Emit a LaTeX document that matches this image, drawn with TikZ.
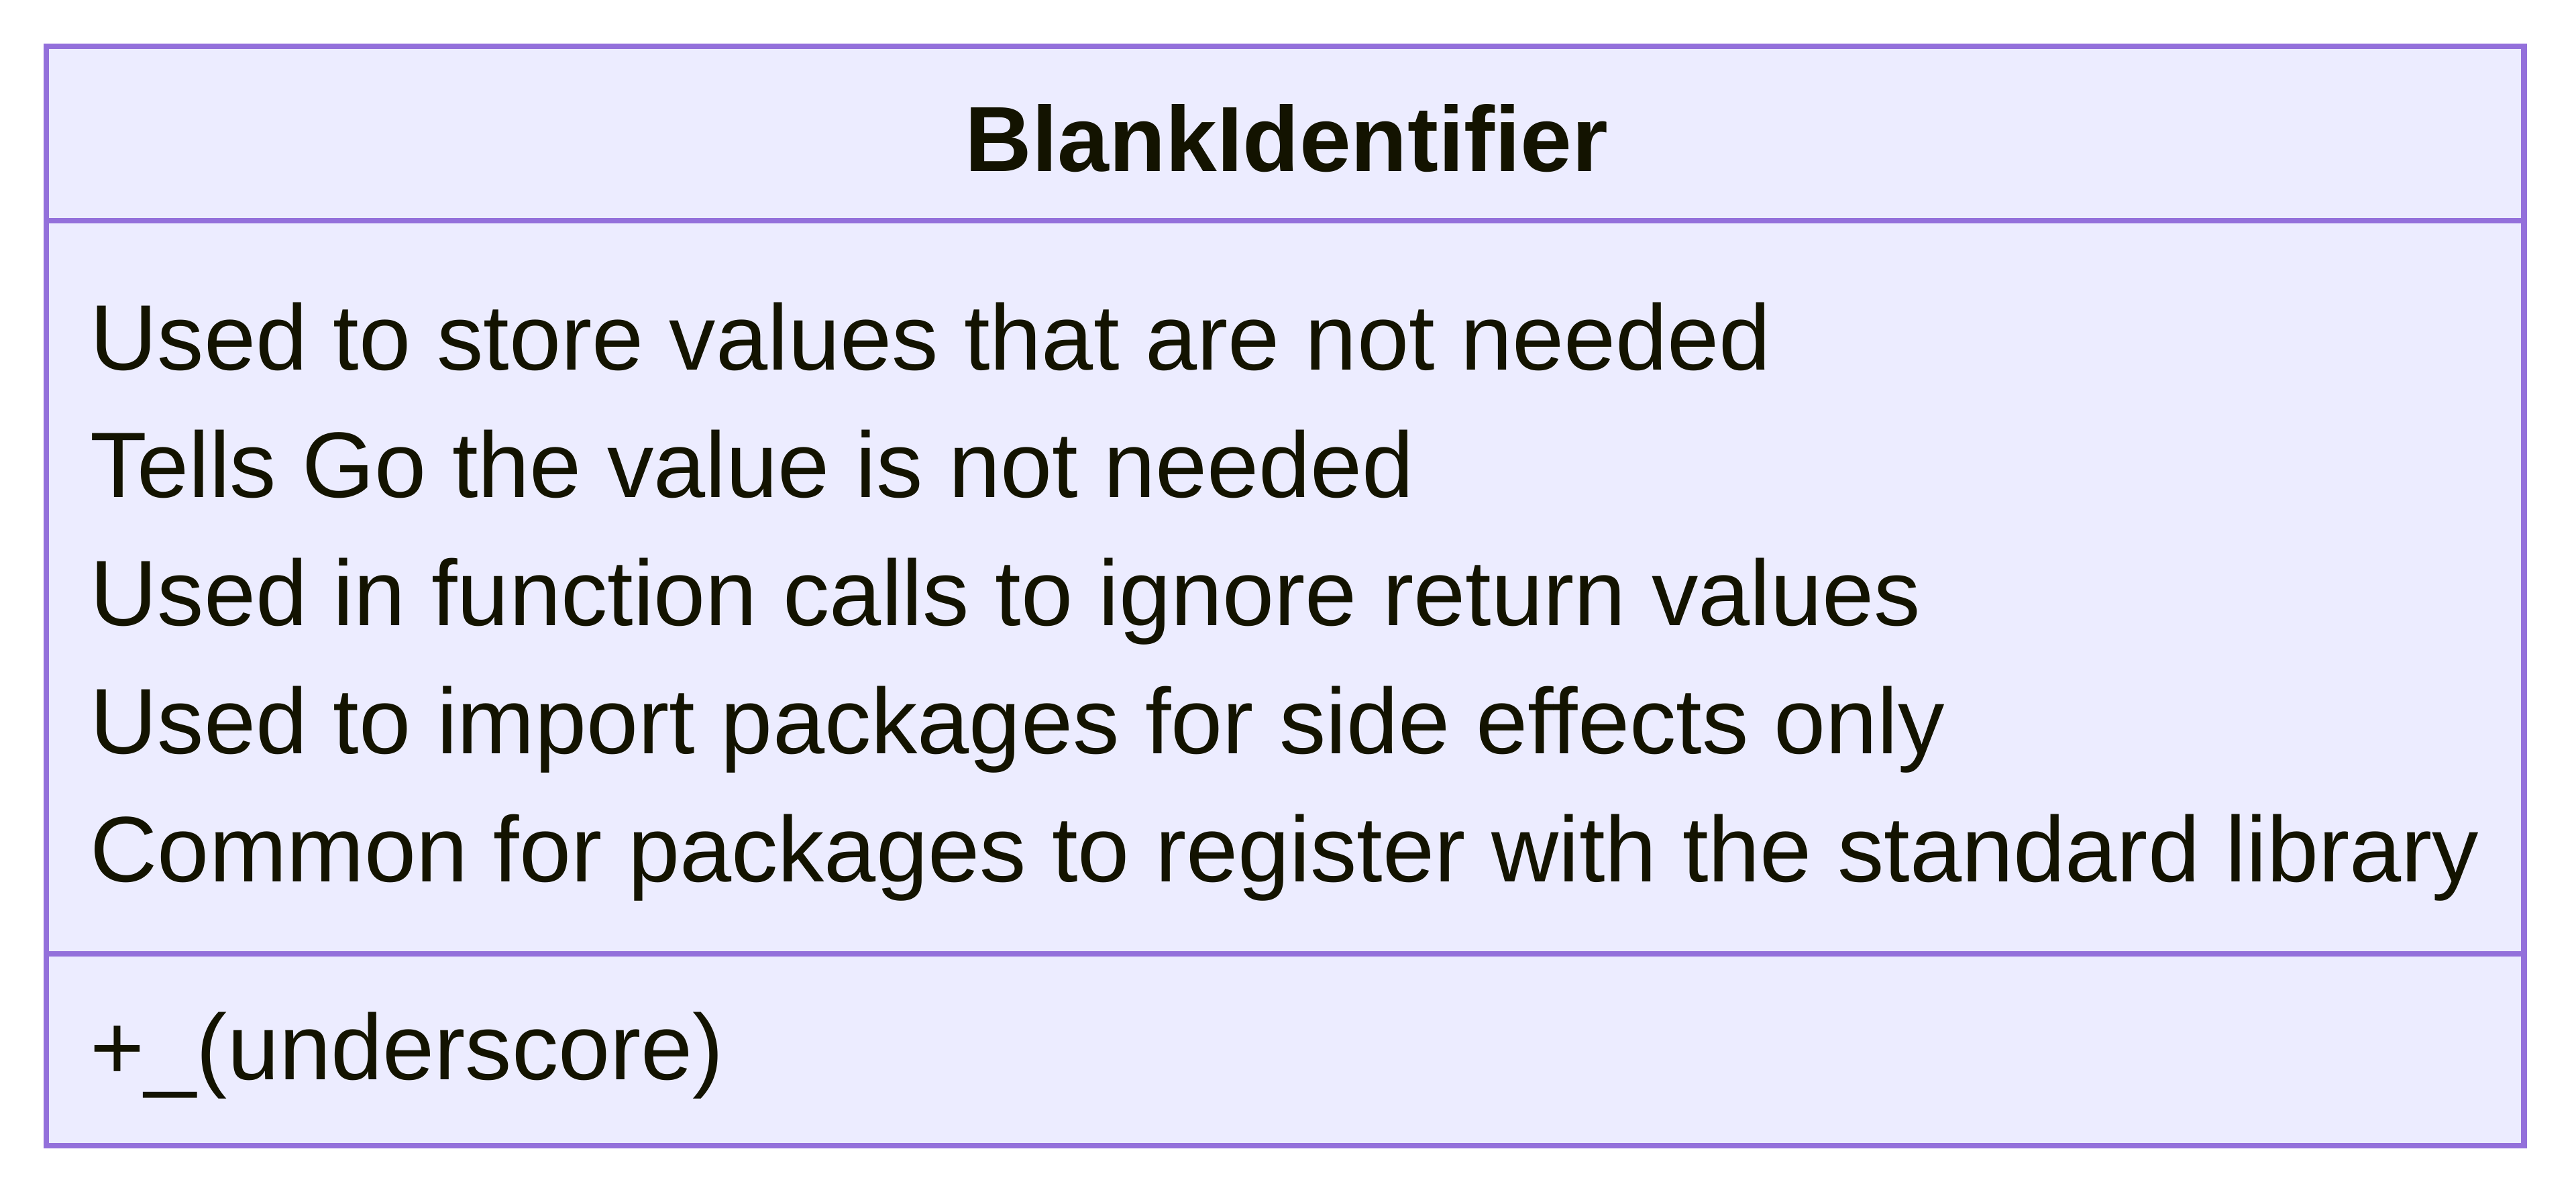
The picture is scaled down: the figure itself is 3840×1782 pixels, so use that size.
\documentclass[tikz,border=0pt]{standalone}
\usepackage{fontspec}
\setmainfont{Liberation Sans}
\definecolor{classfill}{HTML}{ECECFF}
\definecolor{classline}{HTML}{9370DB}
\definecolor{classtext}{HTML}{131300}
\begin{document}
\begin{tikzpicture}[x=0.25pt,y=-0.25pt,
  classbox/.style={draw=classline,fill=classfill,line width=2.125pt},
  divider/.style={draw=classline,line width=2.125pt},
  entry/.style={anchor=base west,inner sep=0pt,text=classtext,
    font=\fontsize{34.67pt}{42pt}\selectfont},
  heading/.style={anchor=base,inner sep=0pt,text=classtext,
    font=\fontsize{34.5pt}{42pt}\selectfont\bfseries}]
  % page frame
  \useasboundingbox (0,0) rectangle (3840,1782);
  % class box with its three compartments
  \path[classbox] (69,69) rectangle (3762.5,1708);
  \path[divider] (69,329) -- (3762.5,329);
  \path[divider] (69,1422) -- (3762.5,1422);
  % class name
  \node[heading] (title) at (1918,255.7) {BlankIdentifier};
  % notes
  \node[entry] (n1) at (134,551.7) {Used to store values that are not needed};
  \node[entry] (n2) at (134,741.7) {Tells Go the value is not needed};
  \node[entry] (n3) at (134,932.3) {Used in function calls to ignore return values};
  \node[entry] (n4) at (134,1123.3) {Used to import packages for side effects only};
  \node[entry] (n5) at (134,1314.3) {Common for packages to register with the standard library};
  % member
  \node[entry] (m1) at (134,1609) {+\_(underscore)};
\end{tikzpicture}
\end{document}
